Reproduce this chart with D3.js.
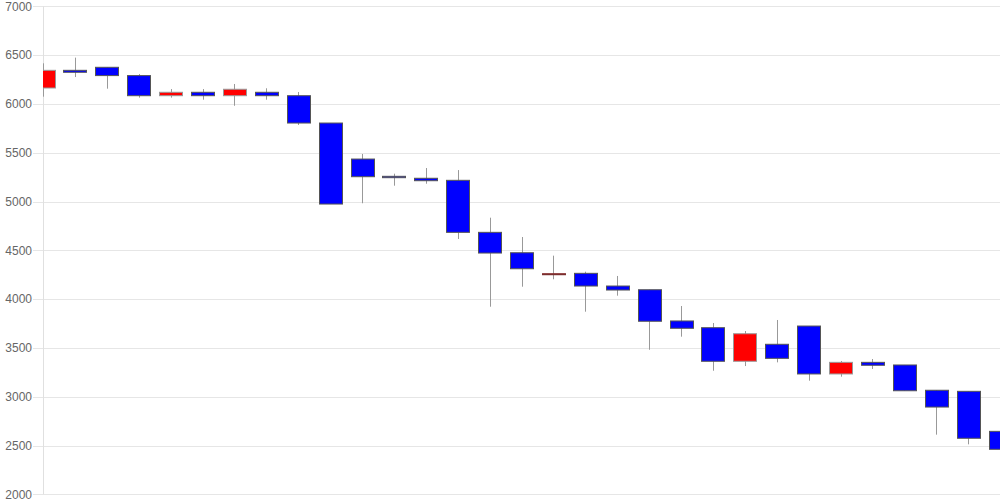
<!DOCTYPE html>
<html>
<head>
<meta charset="utf-8">
<script src="https://cdn.jsdelivr.net/npm/d3@7"></script>
<style>
html,body{margin:0;padding:0;background:#fff;}
svg{display:block;}
</style>
</head>
<body>
<svg id="chart" width="1000" height="500"></svg>
<script>
const categories = [1,2,3,4,5,6,7,8,9,10,11,12,13,14,15,16,17,18,19,20,21,22,23,24,25,26,27,28,29,30,31];
const opens  = [6163,6344,6375,6290,6084,6119,6084,6119,6084,5804,5435,5258,5238,5217,4684,4475,4260,4264,4134,4096,3776,3707,3363,3537,3724,3233,3352,3325,3066,3055,2645];
const highs  = [6416,6474,6375,6306,6152,6152,6204,6160,6122,5804,5487,5285,5343,5322,4834,4636,4445,4281,4237,4096,3929,3755,3673,3786,3724,3366,3386,3325,3066,3055,2669];
const lows   = [6074,6275,6156,6064,6064,6043,5981,6043,5784,4974,4982,5162,5182,4616,3922,4127,4203,3871,4035,3481,3615,3266,3314,3352,3164,3205,3284,3061,2611,2512,2395];
const closes = [6344,6324,6290,6084,6119,6084,6150,6084,5804,4974,5254,5244,5213,4684,4472,4311,4260,4134,4093,3773,3701,3363,3645,3393,3233,3352,3322,3061,2894,2574,2461];
const yTicks = [2000,2500,3000,3500,4000,4500,5000,5500,6000,6500,7000];

const svg = d3.select("#chart");
const mLeft = 43, mRight = 1000, mTop = 6.3, mBottom = 494.3;

const y = d3.scaleLinear().domain([2000,7000]).range([mBottom, mTop]);
const x = d3.scalePoint().domain(categories).range([mLeft, mRight]);
const cw = x.step() * 0.72;

// grid
svg.append("g").selectAll("line").data(yTicks).join("line")
  .attr("x1", mLeft - 10).attr("x2", mRight)
  .attr("y1", d => Math.round(y(d)) + 0.5).attr("y2", d => Math.round(y(d)) + 0.5)
  .attr("stroke", "#e6e6e6").attr("stroke-width", 1);

// axis line
svg.append("line").attr("x1", mLeft + 0.5).attr("x2", mLeft + 0.5)
  .attr("y1", mTop).attr("y2", mBottom)
  .attr("stroke", "#e0e0e0");

// labels
const yAxis = d3.axisLeft(y).tickValues(yTicks).tickSize(0).tickPadding(0).tickFormat(d3.format("d"));
const ag = svg.append("g").attr("transform", `translate(${mLeft - 11},0)`).call(yAxis);
ag.select(".domain").remove();
ag.selectAll("text").attr("fill", "#666").attr("font-family", "Liberation Sans, Arial, sans-serif").attr("font-size", 12);

// clip
svg.append("clipPath").attr("id", "clip").append("rect")
  .attr("x", mLeft).attr("y", 0).attr("width", mRight - mLeft).attr("height", 500);

const data = categories.map((c, i) => ({c, o: opens[i], h: highs[i], l: lows[i], cl: closes[i]}));
const g = svg.append("g").attr("clip-path", "url(#clip)");

g.selectAll("line.wick").data(data).join("line").attr("class", "wick")
  .attr("x1", d => Math.round(x(d.c)) + 0.5).attr("x2", d => Math.round(x(d.c)) + 0.5)
  .attr("y1", d => y(d.h)).attr("y2", d => y(d.l))
  .attr("stroke", "#999").attr("stroke-width", 1);

g.selectAll("rect.body").data(data).join("rect").attr("class", "body")
  .attr("x", d => Math.round(x(d.c) - cw / 2) + 0.5)
  .attr("width", Math.round(cw))
  .attr("y", d => y(Math.max(d.o, d.cl)))
  .attr("height", d => Math.max(1, y(Math.min(d.o, d.cl)) - y(Math.max(d.o, d.cl))))
  .attr("fill", d => d.cl >= d.o ? "#ff0000" : "#0000ff")
  .attr("stroke", d => d.cl === d.o ? "#7a2e2e" : (d.cl > d.o ? "#999" : "#555"))
  .attr("stroke-width", 1);
</script>
</body>
</html>
